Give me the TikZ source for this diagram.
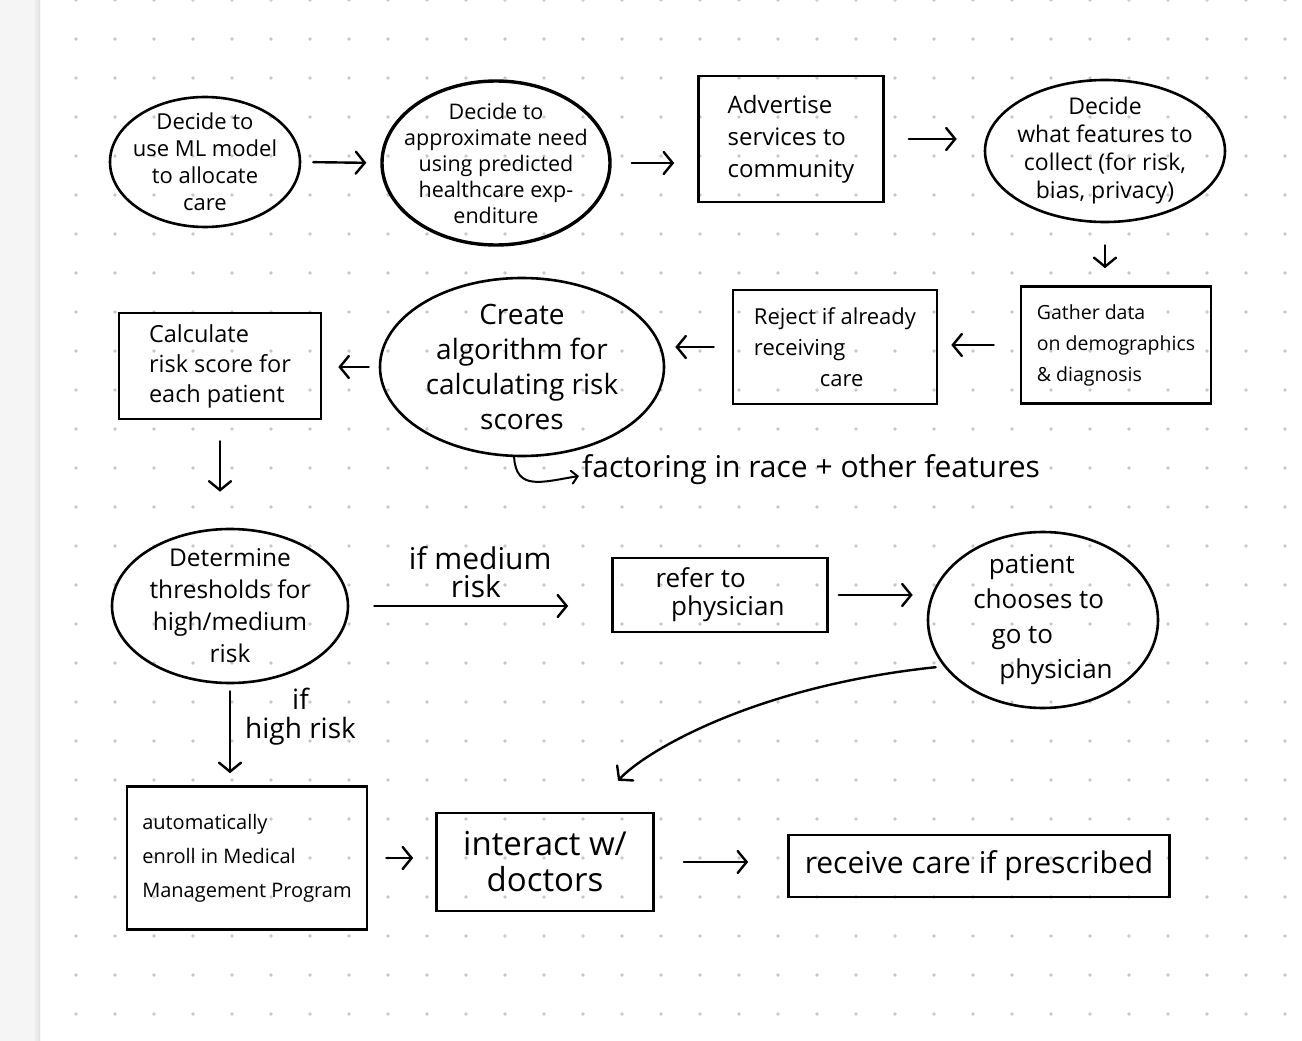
\documentclass[tikz,border=0pt]{standalone}
\usepackage{fontspec}
\setmainfont{Open Sans}
\usetikzlibrary{arrows.meta,shapes.geometric,calc}
\definecolor{dotc}{RGB}{200,200,200}
\definecolor{stripc}{RGB}{245,245,245}
\definecolor{shadowc}{RGB}{222,222,222}
\begin{document}
\begin{tikzpicture}[x=1pt,y=-1pt,
  base/.style={draw=black,line width=2.6pt,text=black,align=center},
  ell/.style={base,ellipse,inner sep=-40pt},
  box/.style={base,rectangle,inner sep=0pt},
  arr/.style={line width=2.4pt,line cap=round,-{Straight Barb[length=9pt,width=22pt,line cap=round]}},
  arrsmall/.style={line width=2pt,line cap=round,-{Straight Barb[length=6pt,width=13pt,line cap=round]}},
  lbl/.style={text=black,inner sep=0pt,align=left}]
% canvas
\path[use as bounding box] (0,0) rectangle (1302,1041);
\fill[white] (0,0) rectangle (1302,1041);
\fill[stripc] (0,0) rectangle (40,1041);
\shade[left color=stripc,right color=shadowc] (33,0) rectangle (40,1041);
\foreach \i in {0,...,31}{
  \foreach \j in {0,...,26}{
    \fill[dotc] (76+39*\i,39*\j) circle[radius=1.9pt];
  }
}
% row 1
\node[ell,minimum width=190pt,minimum height=130pt,font=\fontsize{22}{27}\selectfont] (n1) at (205,162) {Decide to\\use ML model\\to allocate\\care};
\node[ell,line width=3.4pt,minimum width=228pt,minimum height=164pt,font=\fontsize{21.5}{26}\selectfont] (n2) at (496,163) {Decide to\\approximate need\\using predicted\\healthcare exp-\\enditure};
\node[box,minimum width=185pt,minimum height=126pt,align=left,font=\fontsize{24}{32}\selectfont] (n3) at (791,139) {Advertise\\services to\\community};
\node[ell,minimum width=240pt,minimum height=142pt,font=\fontsize{23}{28}\selectfont] (n4) at (1105,151) {Decide\\what features to\\collect (for risk,\\bias, privacy)};
% row 2
\node[box,minimum width=190pt,minimum height=117pt,align=left,font=\fontsize{19.5}{31}\selectfont] (n5) at (1116,345) {Gather data\\on demographics\\\& diagnosis};
\node[box,minimum width=204pt,minimum height=114pt,align=left,font=\fontsize{22}{31}\selectfont] (n6) at (835,347) {Reject if already\\receiving\\\hspace*{3em}care};
\node[ell,minimum width=284pt,minimum height=178pt,font=\fontsize{28}{35}\selectfont] (n7) at (522,367) {Create\\algorithm for\\calculating risk\\scores};
\node[box,minimum width=202pt,minimum height=106pt,align=left,font=\fontsize{23.5}{30}\selectfont] (n8) at (220,366) {Calculate\\risk score for\\each patient};
\node[lbl,anchor=west,font=\fontsize{30}{32}\selectfont] (fac) at (582,470) {factoring in race + other features};
% row 3
\node[ell,minimum width=236pt,minimum height=154pt,font=\fontsize{24.5}{32}\selectfont] (n9) at (230,606) {Determine\\thresholds for\\high/medium\\risk};
\node[box,minimum width=215pt,minimum height=74pt,align=left,font=\fontsize{26}{28}\selectfont] (n10) at (720,595) {refer to\\\hspace*{0.6em}physician};
\node[ell,minimum width=230pt,minimum height=176pt,align=left,font=\fontsize{26}{35}\selectfont] (n11) at (1043,620) {\hspace*{0.6em}patient\\chooses to\\\hspace*{0.7em}go to\\\hspace*{1em}physician};
% row 4
\node[box,minimum width=240pt,minimum height=143pt,align=left,font=\fontsize{20}{34}\selectfont] (n12) at (247,858) {automatically\\enroll in Medical\\Management Program};
\node[box,minimum width=217pt,minimum height=98pt,font=\fontsize{33}{36}\selectfont] (n13) at (545,862) {interact w/\\doctors};
\node[box,minimum width=381pt,minimum height=62pt,font=\fontsize{30}{32}\selectfont] (n14) at (979,866) {receive care if prescribed};
% connectors
\draw[arr,shorten <=12pt,shorten >=14pt] (n1.east) -- (n2.west);
\draw[arr,shorten <=20pt,shorten >=23pt] (n2.east) -- (n2.east -| n3.west);
\draw[arr,shorten <=24pt,shorten >=27pt] (n3.east) -- (n3.east -| n4.west);
\draw[arr,shorten <=22pt,shorten >=17pt] (n4.south) -- (n4.south |- n5.north);
\draw[arr,shorten <=26pt,shorten >=13pt] (n5.west) -- (n5.west -| n6.east);
\draw[arr,shorten <=18pt,shorten >=10pt] (n6.west) -- (n6.west -| n7.east);
\draw[arr,shorten <=10pt,shorten >=16pt] (n7.west) -- (n7.west -| n8.east);
\draw[arr,shorten <=21pt,shorten >=36pt] (n8.south) -- (n8.south |- n9.north);
\draw[arrsmall] (n7.265) .. controls ($(n7.265)+(2,34)$) and ($(fac.west)+(-40,12)$) .. ($(fac.west)+(-3,6)$);
\draw[arr,shorten <=25pt,shorten >=43pt] (n9.east) -- node[lbl,above=7pt,pos=0.5,font=\fontsize{30}{28}\selectfont] {if medium\\\hspace*{1.4em}risk} (n9.east -| n10.west);
\draw[arr,shorten <=10pt,shorten >=14pt] (n10.east) -- (n10.east -| n11.west);
\draw[arr,shorten <=7pt,shorten >=12pt] (n9.south) -- node[lbl,right=14pt,pos=0.32,align=center,font=\fontsize{28}{29}\selectfont] {if\\high risk} (n9.south |- n12.north);
\draw[arr,shorten <=8pt] (n11.205) .. controls ($(n11.205)+(-190,20)$) and ($(n13.north)+(100,-60)$) .. ($(n13.north)+(73,-31)$);
\draw[arr,shorten <=18pt,shorten >=22pt] (n12.east) -- (n12.east -| n13.west);
\draw[arr,shorten <=29pt,shorten >=39pt] (n13.east) -- (n13.east -| n14.west);
\end{tikzpicture}
\end{document}
